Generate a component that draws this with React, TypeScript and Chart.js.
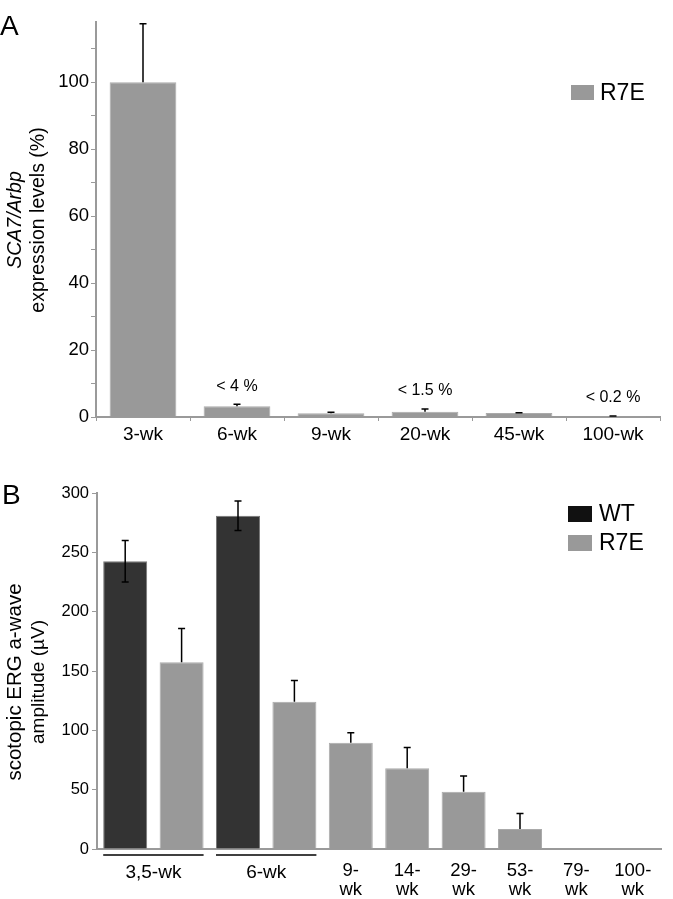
import React, { useEffect, useRef } from 'react';
import { Chart, registerables } from 'chart.js';

Chart.register(...registerables);

const FONT = "'Liberation Sans', Arial, Helvetica, sans-serif";

// ---------- Panel A data ----------
const categoriesA = ['3-wk', '6-wk', '9-wk', '20-wk', '45-wk', '100-wk'];
const valuesA = [100, 3.2, 1.1, 1.6, 1.2, 0.2];
const errorsA = [17.5, 0.6, 0.3, 0.8, 0.1, 0.1];
const notesA = ['', '< 4 %', '', '< 1.5 %', '', '< 0.2 %'];
const yMaxA = 118;
const yStepA = 10;
const yLabelEveryA = 20;

// ---------- Panel B data ----------
const slotsB = ['', '', '', '', '9-wk', '14-wk', '29-wk', '53-wk', '79-wk', '100-wk'];
const groupLabelsB = ['3,5-wk', '6-wk'];
const groupStartB = [0, 2];
const groupEndB = [1, 3];
const wtValuesB = [242.5, null, 280.8, null, null, null, null, null, null, null];
const wtErrorsB = [17.5, null, 12.4, null, null, null, null, null, null, null];
const r7eValuesB = [null, 157.3, null, 124, 89.6, 68, 48.3, 16.9, 0, 0];
const r7eErrorsB = [null, 28.5, null, 17.9, 8.4, 17.5, 13.2, 13.1, 0, 0];
const yMaxB = 300;
const yStepB = 50;

const GRAY = '#999999';
const DARK = '#333333';
const AXIS = '#9a9a9a';

const errorBarPlugin = {
  id: 'errorBars',
  afterDatasetsDraw(chart: any) {
    const ctx = chart.ctx;
    const ys = chart.scales.y;
    chart.data.datasets.forEach((ds: any, di: number) => {
      if (!ds.errors) return;
      const meta = chart.getDatasetMeta(di);
      meta.data.forEach((bar: any, i: number) => {
        const v = ds.data[i];
        const e = ds.errors[i];
        if (v == null || !e) return;
        const x = bar.x;
        const top = ys.getPixelForValue(v + e);
        const bottom = ds.errorBoth ? ys.getPixelForValue(v - e) : ys.getPixelForValue(v);
        const cap = 3.5;
        ctx.save();
        ctx.strokeStyle = '#000';
        ctx.lineWidth = 1.5;
        ctx.beginPath();
        ctx.moveTo(x, top);
        ctx.lineTo(x, bottom);
        ctx.moveTo(x - cap, top);
        ctx.lineTo(x + cap, top);
        if (ds.errorBoth) {
          ctx.moveTo(x - cap, bottom);
          ctx.lineTo(x + cap, bottom);
        }
        ctx.stroke();
        ctx.restore();
      });
    });
  },
};

function drawRotated(ctx: any, text: string, x: number, y: number, font: string) {
  ctx.save();
  ctx.translate(x, y);
  ctx.rotate(-Math.PI / 2);
  ctx.font = font;
  ctx.fillStyle = '#000';
  ctx.textAlign = 'center';
  ctx.textBaseline = 'alphabetic';
  ctx.fillText(text, 0, 0);
  ctx.restore();
}

const decorA = {
  id: 'decorA',
  afterDraw(chart: any) {
    const ctx = chart.ctx;
    const ca = chart.chartArea;
    const ys = chart.scales.y;
    const meta = chart.getDatasetMeta(0);
    // annotations
    ctx.save();
    ctx.font = `16px ${FONT}`;
    ctx.fillStyle = '#000';
    ctx.textAlign = 'center';
    ctx.textBaseline = 'middle';
    notesA.forEach((t, i) => {
      if (!t) return;
      const top = ys.getPixelForValue(valuesA[i] + errorsA[i]);
      ctx.fillText(t, meta.data[i].x, top - 18);
    });
    ctx.restore();
    // panel letter
    ctx.save();
    ctx.font = `28px ${FONT}`;
    ctx.fillStyle = '#000';
    ctx.textBaseline = 'alphabetic';
    ctx.fillText('A', 0, 34.5);
    ctx.restore();
    // y title
    const cy = (ca.top + ca.bottom) / 2 + 0.5;
    drawRotated(ctx, 'SCA7/Arbp', 21, cy, `italic 19.5px ${FONT}`);
    drawRotated(ctx, 'expression levels (%)', 44, cy, `19.5px ${FONT}`);
    // legend
    ctx.save();
    ctx.fillStyle = GRAY;
    ctx.fillRect(ca.right - 89, 85, 23, 15);
    ctx.font = `23px ${FONT}`;
    ctx.fillStyle = '#000';
    ctx.textBaseline = 'middle';
    ctx.fillText(chart.data.datasets[0].label, ca.right - 60, 94);
    ctx.restore();
  },
};

const decorB = {
  id: 'decorB',
  afterDraw(chart: any) {
    const ctx = chart.ctx;
    const ca = chart.chartArea;
    const xs = chart.scales.x;
    const slot = xs.getPixelForValue(1) - xs.getPixelForValue(0);
    const half = (slot * 0.78) / 2;
    ctx.save();
    ctx.strokeStyle = '#000';
    ctx.lineWidth = 1.5;
    ctx.fillStyle = '#000';
    ctx.font = `19px ${FONT}`;
    ctx.textAlign = 'center';
    ctx.textBaseline = 'middle';
    groupLabelsB.forEach((g, i) => {
      const x1 = xs.getPixelForValue(groupStartB[i]) - half;
      const x2 = xs.getPixelForValue(groupEndB[i]) + half;
      ctx.beginPath();
      ctx.moveTo(x1, ca.bottom + 6);
      ctx.lineTo(x2, ca.bottom + 6);
      ctx.stroke();
      ctx.fillText(g, (x1 + x2) / 2, ca.bottom + 24);
    });
    ctx.restore();
    // panel letter
    ctx.save();
    ctx.font = `28px ${FONT}`;
    ctx.fillStyle = '#000';
    ctx.fillText('B', 2, 44);
    ctx.restore();
    // y title
    const cy = (ca.top + ca.bottom) / 2 + 11;
    drawRotated(ctx, 'scotopic ERG a-wave', 21, cy, `20.5px ${FONT}`);
    drawRotated(ctx, 'amplitude (\u00b5V)', 44, cy, `19px ${FONT}`);
    // legend
    const items = [
      { label: chart.data.datasets[0].label, color: '#111111' },
      { label: chart.data.datasets[1].label, color: GRAY },
    ];
    ctx.save();
    ctx.font = `23px ${FONT}`;
    ctx.textBaseline = 'middle';
    items.forEach((it, i) => {
      const y = 46 + i * 29;
      ctx.fillStyle = it.color;
      ctx.fillRect(ca.right - 93, y, 24, 16);
      ctx.fillStyle = '#000';
      ctx.fillText(it.label, ca.right - 62, y + 9);
    });
    ctx.restore();
  },
};

function makeConfigA(): any {
  return {
    type: 'bar',
    data: {
      labels: categoriesA,
      datasets: [
        {
          label: 'R7E',
          data: valuesA,
          errors: errorsA,
          backgroundColor: GRAY,
          borderColor: '#aaaaaa',
          borderWidth: 1,
          barPercentage: 0.71,
          categoryPercentage: 1,
        },
      ],
    },
    options: {
      responsive: false,
      animation: false,
      layout: { padding: { left: 36, right: 13, top: 22, bottom: 0 } },
      plugins: { legend: { display: false }, tooltip: { enabled: false } },
      scales: {
        x: {
          grid: { display: true, drawOnChartArea: false, drawTicks: true, tickLength: 4, color: AXIS, offset: true },
          border: { display: true, color: AXIS, width: 2 },
          ticks: { color: '#000', font: { family: FONT, size: 19 }, padding: 2, maxRotation: 0, autoSkip: false },
          afterFit: (s: any) => { s.height = 43; },
        },
        y: {
          min: 0,
          max: yMaxA,
          ticks: {
            stepSize: yStepA,
            includeBounds: false,
            color: '#000',
            font: { family: FONT, size: 18.5 },
            padding: 2,
            callback: (v: any) => (v % yLabelEveryA === 0 ? String(v) : ''),
          },
          grid: { display: true, drawOnChartArea: false, drawTicks: true, tickLength: 5, color: AXIS },
          border: { display: true, color: AXIS, width: 2 },
          afterFit: (s: any) => { s.width = 60; },
        },
      },
    },
    plugins: [errorBarPlugin, decorA],
  };
}

function makeConfigB(): any {
  return {
    type: 'bar',
    data: {
      labels: slotsB,
      datasets: [
        {
          label: 'WT',
          data: wtValuesB,
          errors: wtErrorsB,
          errorBoth: true,
          backgroundColor: DARK,
          borderColor: '#777777',
          borderWidth: 1,
          barPercentage: 0.78,
          categoryPercentage: 1,
          skipNull: true,
        },
        {
          label: 'R7E',
          data: r7eValuesB,
          errors: r7eErrorsB,
          errorBoth: false,
          backgroundColor: GRAY,
          borderColor: '#aaaaaa',
          borderWidth: 1,
          barPercentage: 0.78,
          categoryPercentage: 1,
          skipNull: true,
        },
      ],
    },
    options: {
      responsive: false,
      animation: false,
      layout: { padding: { left: 37, right: 12, top: 33, bottom: 0 } },
      plugins: { legend: { display: false }, tooltip: { enabled: false } },
      scales: {
        x: {
          grid: { display: false },
          border: { display: true, color: AXIS, width: 2 },
          ticks: {
            color: '#000',
            font: { family: FONT, size: 18.5, lineHeight: 1.05 },
            padding: 4,
            maxRotation: 0,
            autoSkip: false,
            callback: function (this: any, v: any, i: number) {
              const l = slotsB[i];
              if (!l) return '';
              const k = l.indexOf('-');
              return [l.slice(0, k + 1), l.slice(k + 1)];
            },
          },
          afterFit: (s: any) => { s.height = 50; },
        },
        y: {
          min: 0,
          max: yMaxB,
          ticks: { stepSize: yStepB, color: '#000', font: { family: FONT, size: 16.5 }, padding: 3 },
          grid: { display: true, drawOnChartArea: false, drawTicks: true, tickLength: 5, color: AXIS },
          border: { display: true, color: AXIS, width: 2 },
          afterFit: (s: any) => { s.width = 60; },
        },
      },
    },
    plugins: [errorBarPlugin, decorB],
  };
}

export default function App() {
  const refA = useRef<HTMLCanvasElement>(null);
  const refB = useRef<HTMLCanvasElement>(null);
  useEffect(() => {
    const a = new Chart(refA.current as HTMLCanvasElement, makeConfigA());
    const b = new Chart(refB.current as HTMLCanvasElement, makeConfigB());
    return () => {
      a.destroy();
      b.destroy();
    };
  }, []);
  return (
    <div style={{ position: 'absolute', left: 0, top: 0, width: 673, height: 899, background: '#fff' }}>
      <canvas ref={refA} width={673} height={460} style={{ position: 'absolute', left: 0, top: 0, width: 673, height: 460 }} />
      <canvas ref={refB} width={673} height={439} style={{ position: 'absolute', left: 0, top: 460, width: 673, height: 439 }} />
    </div>
  );
}
